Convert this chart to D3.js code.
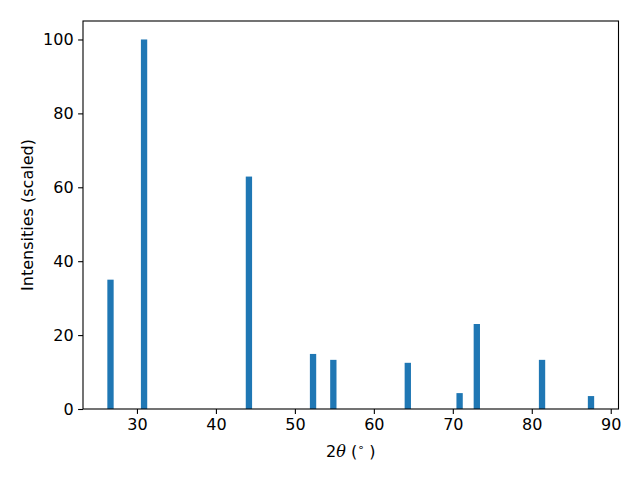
<!DOCTYPE html>
<html>
<head>
<meta charset="utf-8">
<script src="https://d3js.org/d3.v7.min.js"></script>
<style>
  body { margin: 0; background: #fff; }
  svg { font-family: "DejaVu Sans", sans-serif; }
</style>
</head>
<body>
<svg id="vis-svg"></svg>
<script>
// peak positions (2theta, degrees) and scaled intensities
const peaks = [26.65, 30.9, 44.18, 52.3, 54.87, 64.3, 70.86, 73.04, 81.3, 87.5];
const intensities = [35, 100, 62.9, 14.9, 13.3, 12.5, 4.3, 23.0, 13.3, 3.5];
const xTicks = [30, 40, 50, 60, 70, 80, 90];
const yTicks = [0, 20, 40, 60, 80, 100];

const barWidth = 0.8;
const data = peaks.map((p, i) => ({ pos: p, val: intensities[i] }));

let margin = { top: 21, right: 21.5, bottom: 71, left: 83 },
    width = 640 - margin.left - margin.right,
    height = 480 - margin.top - margin.bottom;

const svg = d3.select("#vis-svg")
    .attr("width", 640)
    .attr("height", 480);

const g = svg.append("g")
    .attr("transform", "translate(" + margin.left + "," + margin.top + ")");

// matplotlib style 5% margins around the bars
const lo = d3.min(data, d => d.pos - barWidth / 2),
    hi = d3.max(data, d => d.pos + barWidth / 2),
    pad = (hi - lo) * 0.05;

const x = d3.scaleLinear().domain([lo - pad, hi + pad]).range([0, width]);
const y = d3.scaleLinear().domain([0, 105]).range([height, 0]);

// bars
g.selectAll(".bar")
    .data(data)
    .enter().append("rect")
    .attr("class", "bar")
    .attr("x", d => x(d.pos - barWidth / 2))
    .attr("width", d => x(d.pos + barWidth / 2) - x(d.pos - barWidth / 2))
    .attr("y", d => y(d.val))
    .attr("height", d => y(0) - y(d.val))
    .attr("fill", "#1f77b4");

// axes
const xAxis = g.append("g")
    .attr("transform", "translate(0," + height + ")")
    .call(d3.axisBottom(x).tickValues(xTicks).tickSize(4.9).tickPadding(4.5).tickFormat(d3.format("d")));

const yAxis = g.append("g")
    .call(d3.axisLeft(y).tickValues(yTicks).tickSize(4.9).tickPadding(4.5).tickFormat(d3.format("d")));

[xAxis, yAxis].forEach(a => {
    a.select(".domain").remove();
    a.selectAll(".tick line").attr("stroke", "#000").attr("stroke-width", 1.1);
    a.selectAll(".tick text")
        .attr("fill", "#000")
        .style("font-size", "16px")
        .style("font-family", "DejaVu Sans");
});

// frame
g.append("rect")
    .attr("width", width)
    .attr("height", height)
    .attr("fill", "none")
    .attr("stroke", "#000")
    .attr("stroke-width", 1.1);

// x axis label
const xl = svg.append("text")
    .attr("x", margin.left + width / 2)
    .attr("y", 457)
    .attr("text-anchor", "middle")
    .style("font-size", "16px")
    .attr("fill", "#000");
xl.append("tspan").text("2");
xl.append("tspan").attr("font-style", "italic").attr("font-family", "DejaVu Serif").text("θ");
xl.append("tspan").text(" (");
xl.append("tspan").attr("font-size", "11px").attr("dy", "-6").text("∘");
xl.append("tspan").attr("dy", "6").text(" )");

// y axis label
svg.append("text")
    .attr("transform", "translate(32.5," + (margin.top + height / 2) + ") rotate(-90)")
    .attr("text-anchor", "middle")
    .style("font-size", "16px")
    .attr("fill", "#000")
    .text("Intensities (scaled)");
</script>
</body>
</html>
